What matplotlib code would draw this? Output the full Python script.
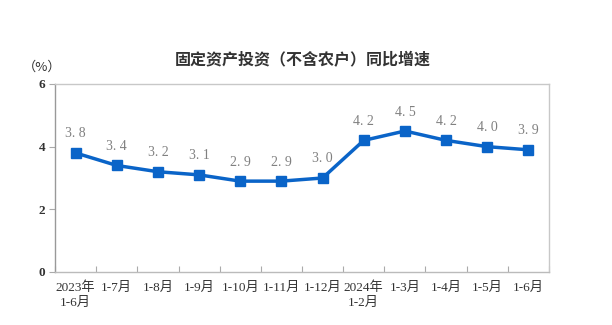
import matplotlib.pyplot as plt
import numpy as np

# données : investissement en actifs fixes, croissance cumulée (%)
categories = ["2023年\n1-6月", "1-7月", "1-8月", "1-9月", "1-10月", "1-11月", "1-12月",
              "2024年\n1-2月", "1-3月", "1-4月", "1-5月", "1-6月"]
growth = [3.8, 3.4, 3.2, 3.1, 2.9, 2.9, 3.0, 4.2, 4.5, 4.2, 4.0, 3.9]
yticks = [0, 2, 4, 6]

plt.rcParams['font.family'] = ['Liberation Serif', 'Noto Sans CJK SC']
blue = "#0a64c8"
grey = "#808080"

fig = plt.figure(figsize=(6.12, 3.25), dpi=100)
ax = fig.add_axes([55/612, 1 - 272/325, 494/612, 188/325])

x = np.arange(len(growth))
ax.plot(x, growth, color=blue, lw=2.5, marker="s", ms=7, mec=blue, mfc=blue)
for xi, v in zip(x, growth):
    s = f"{v:.1f}".replace(".", ". ")
    ax.annotate(s, (xi, v), xytext=(0, 9), textcoords="offset points",
                ha="center", va="bottom", fontsize=10, color=grey)

ax.set_xlim(-0.5, len(growth) - 0.5)
ax.set_ylim(0, 6)
ax.set_yticks(yticks)
ax.set_yticklabels([str(t) for t in yticks], fontsize=9.5, fontweight="bold", color="#333333")
ax.tick_params(axis="y", length=4, color="#aaaaaa", pad=3)

# ticks entre les catégories, libellés au centre
ax.set_xticks(np.arange(len(growth) + 1) - 0.5)
ax.set_xticklabels([])
ax.set_xticks(x, minor=True)
ax.set_xticklabels(categories, minor=True, fontsize=9.5, color="#333333", linespacing=1.25)
ax.tick_params(axis="x", which="minor", length=0, pad=7)
ax.tick_params(axis="x", which="major", direction="in", length=4, color="#aaaaaa")

for s in ax.spines.values():
    s.set_color("#c8c8c8")
    s.set_linewidth(1)
ax.spines["left"].set_color("#999999")
ax.spines["bottom"].set_color("#bbbbbb")

fig.text(0.495, 1 - 60/325, "固定资产投资（不含农户）同比增速", ha="center", va="center",
         fontsize=11.5, fontweight="bold", color="#333333", family=['Noto Sans CJK SC'])
fig.text(42/612, 1 - 67/325, "（%）", ha="center", va="center", fontsize=9.5, color="#333333",
         family=['Noto Sans CJK SC'])

fig.savefig("out.png", dpi=100)
